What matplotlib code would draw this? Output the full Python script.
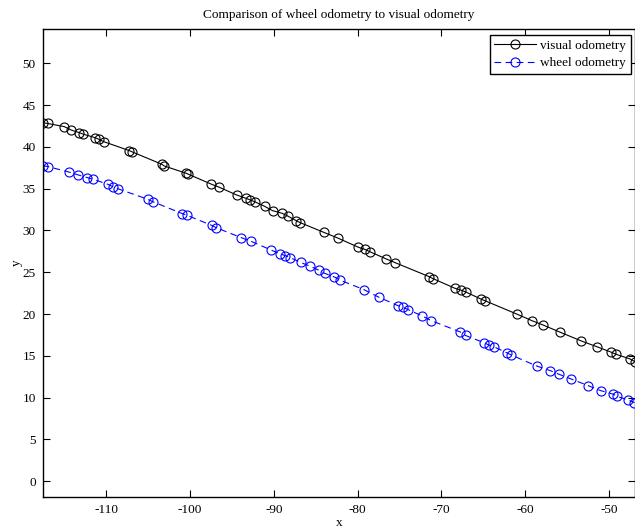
import matplotlib
matplotlib.use("Agg")
import matplotlib.pyplot as plt

plt.rcParams['font.family'] = ['Liberation Serif', 'DejaVu Serif']

title = "Comparison of wheel odometry to visual odometry"
series_names = ["visual odometry", "wheel odometry"]

visual_x = [-117.56, -116.96, -114.98, -114.18, -113.19, -112.78, -111.31, -110.87, -110.27,
            -107.22, -106.86, -103.35, -103.07, -100.44, -100.17, -97.49, -96.50, -94.44,
            -93.31, -92.80, -92.20, -91.09, -90.14, -89.01, -88.34, -87.31, -86.83, -84.04,
            -82.37, -79.90, -79.15, -78.47, -76.67, -75.52, -71.45, -70.98, -68.40, -67.72,
            -67.08, -65.33, -64.81, -61.03, -59.20, -57.89, -55.81, -53.30, -51.47, -49.72,
            -49.17, -47.49, -46.93]
visual_y = [42.89, 42.80, 42.42, 42.02, 41.70, 41.54, 41.10, 40.91, 40.62,
            39.55, 39.39, 37.92, 37.72, 36.84, 36.72, 35.56, 35.17, 34.25,
            33.85, 33.65, 33.41, 32.89, 32.37, 32.06, 31.73, 31.17, 30.93, 29.78,
            29.10, 27.99, 27.75, 27.43, 26.63, 26.15, 24.47, 24.23, 23.09, 22.88,
            22.64, 21.81, 21.60, 20.01, 19.21, 18.70, 17.82, 16.78, 16.10, 15.43,
            15.19, 14.63, 14.31]

wheel_x = [-117.56, -116.89, -114.46, -113.31, -112.23, -111.52, -109.80, -109.20, -108.60,
           -105.02, -104.42, -100.89, -100.36, -97.42, -96.86, -93.87, -92.72, -90.33,
           -89.22, -88.62, -88.02, -86.77, -85.67, -84.56, -83.94, -82.77, -82.15, -79.27,
           -77.45, -75.16, -74.56, -73.96, -72.29, -71.20, -67.75, -67.12, -64.93, -64.34,
           -63.77, -62.22, -61.68, -58.64, -57.00, -55.98, -54.54, -52.49, -50.99, -49.48,
           -49.08, -47.71, -46.97]
wheel_y = [37.75, 37.63, 37.00, 36.64, 36.32, 36.12, 35.53, 35.24, 35.00,
           33.73, 33.44, 32.01, 31.82, 30.62, 30.33, 29.14, 28.71, 27.67,
           27.19, 26.99, 26.75, 26.17, 25.73, 25.22, 24.88, 24.44, 24.08, 22.94,
           22.01, 21.00, 20.79, 20.53, 19.77, 19.21, 17.86, 17.44, 16.58, 16.30,
           16.10, 15.38, 15.11, 13.79, 13.23, 12.80, 12.24, 11.44, 10.84, 10.41,
           10.17, 9.72, 9.40]

x_ticks = [-110, -100, -90, -80, -70, -60, -50]
y_ticks = [0, 5, 10, 15, 20, 25, 30, 35, 40, 45, 50]

fig = plt.figure(figsize=(6.35, 5.29), dpi=100)
ax = fig.add_axes([42.7/635, 1 - 497/529, (635.5 - 42.7)/635, (497 - 29)/529])

ax.plot(visual_x, visual_y, color='black', linestyle='-', linewidth=0.8,
        marker='o', markersize=6.5, markerfacecolor='none', markeredgewidth=0.8,
        label=series_names[0])
ax.plot(wheel_x, wheel_y, color='blue', linestyle=(0, (6, 4)), linewidth=0.8,
        marker='o', markersize=6.5, markerfacecolor='none', markeredgewidth=0.8,
        label=series_names[1])

ax.set_xlim(-117.56, -46.85)
ax.set_ylim(-1.88, 54.10)
ax.set_xticks(x_ticks)
ax.set_xticklabels([str(t) for t in x_ticks])
ax.set_yticks(y_ticks)
ax.set_yticklabels([str(t) for t in y_ticks])

ax.tick_params(direction='in', length=5, width=0.8, top=True, right=True,
               labelsize=9.5, colors='black', pad=5)
for s in ax.spines.values():
    s.set_linewidth(1.0)

ax.set_title(title, fontsize=9.5, pad=8)
ax.set_xlabel('x', fontsize=9.5, labelpad=1)
ax.set_ylabel('y', fontsize=9.5, labelpad=0)

leg = ax.legend(loc='upper right', bbox_to_anchor=(0.9921, 0.9872), fontsize=9.5,
                frameon=True, fancybox=False, edgecolor='black', framealpha=1,
                handlelength=3.2, handletextpad=0.3, borderpad=0.35, labelspacing=0.4,
                borderaxespad=0)
leg.get_frame().set_linewidth(1.0)

fig.savefig('out.png', dpi=100)
